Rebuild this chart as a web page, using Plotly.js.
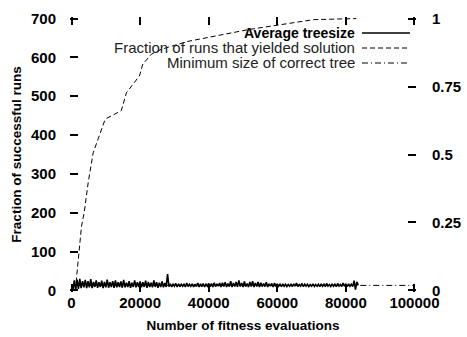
<!DOCTYPE html>
<html><head><meta charset="utf-8">
<script src="https://cdn.plot.ly/plotly-3.0.1.min.js"></script>
<style>html,body{margin:0;padding:0;background:#fff}#chart{width:467px;height:337px}</style>
</head><body><div id="chart"></div>
<script>
// Average treesize: sampled every 400 evaluations starting at 400
const treesizeStart = 400;
const treesizeStep = 400;
const avgTreesize = [
  2, 26, 1, 28, 4, 30, 6, 24, 8, 27,
  6, 24, 8, 29, 6, 22, 9, 26, 7, 21,
  9, 25, 6, 22, 8, 28, 7, 21, 9, 24,
  7, 26, 8, 21, 9, 23, 7, 27, 8, 20,
  9, 24, 7, 20, 9, 26, 8, 21, 9, 23,
  8, 21, 9, 25, 7, 22, 9, 20, 8, 26,
  9, 21, 7, 20, 9, 23, 8, 19, 9, 42,
  10, 17, 9, 16, 11, 18, 9, 17, 10, 16,
  11, 17, 9, 19, 10, 16, 11, 17, 9, 16,
  10, 19, 9, 17, 10, 18, 9, 16, 11, 18,
  10, 18, 9, 20, 10, 17, 11, 19, 9, 20,
  10, 21, 9, 18, 10, 24, 9, 19, 10, 22,
  9, 26, 10, 19, 9, 23, 10, 18, 9, 22,
  10, 24, 9, 19, 10, 22, 9, 20, 10, 18,
  10, 21, 9, 17, 11, 18, 9, 19, 10, 17,
  11, 16, 10, 17, 11, 16, 10, 15, 11, 17,
  10, 17, 11, 19, 10, 15, 11, 18, 10, 16,
  11, 16, 10, 15, 11, 17, 10, 15, 11, 16,
  10, 17, 11, 16, 10, 18, 11, 15, 10, 17,
  11, 16, 10, 18, 11, 15, 10, 19, 11, 16,
  10, 17, 11, 16, 10, 25, 2, 22, 13
];

// Fraction of runs that yielded solution (right axis, 0..1)
const fracEvals = [1100, 1700, 2400, 2900, 3700, 4850, 6300, 9700, 10200, 14500, 16000, 19800, 20800, 23300, 26200, 33900, 51400, 70600, 83000];
const fracSolved = [0, 0.08, 0.153, 0.236, 0.287, 0.396, 0.506, 0.626, 0.633, 0.661, 0.727, 0.789, 0.833, 0.869, 0.887, 0.916, 0.959, 0.996, 1.0];

// Minimum size of correct tree
const minEvals = [800, 100000];
const minSize = [13, 13];

const legendLabels = ["Average treesize", "Fraction of runs that yielded solution", "Minimum size of correct tree"];
const xTickVals = [0, 20000, 40000, 60000, 80000, 100000];
const yTickVals = [0, 100, 200, 300, 400, 500, 600, 700];
const y2TickVals = [0, 0.25, 0.5, 0.75, 1];
// ranges padded by ~1.5px so that the end ticks are drawn
const xRange = [-450, 100450];
const yRange = [-4, 704];
const y2Range = [-0.0057, 1.0057];

const FONT = "Liberation Sans, Arial, Helvetica, sans-serif";

const traces = [
  {type: "scatter", mode: "lines", x0: treesizeStart, dx: treesizeStep, y: avgTreesize,
   line: {color: "#000", width: 1.6}, showlegend: false, hoverinfo: "skip"},
  {type: "scatter", mode: "lines", x: minEvals, y: minSize, yaxis: "y3",
   line: {color: "#000", width: 1, dash: "6px,3px,1px,3px"}, showlegend: false, hoverinfo: "skip"},
  {type: "scatter", mode: "lines", x: fracEvals, y: fracSolved, yaxis: "y4",
   line: {color: "#000", width: 1, dash: "5px,3px"}, showlegend: false, hoverinfo: "skip"},
  // transparent copy so that the right-hand tick axis is built
  {type: "scatter", mode: "lines", x: fracEvals, y: fracSolved, yaxis: "y2", opacity: 0,
   line: {color: "#000", width: 1}, showlegend: false, hoverinfo: "skip"}
];

const L = 70, R = 51, T = 17, B = 45, W = 467, H = 337;
const pw = W - L - R, ph = H - T - B;
const px = v => (v - L) / pw;
const py = v => (H - B - v) / ph;

const legendRows = [33, 48, 63];
const legendDash = ["solid", "5px,3px", "6px,3px,1px,3px"];
const annotations = legendLabels.map((t, i) => ({
  xref: "paper", yref: "paper", x: px(357), y: py(legendRows[i]),
  xanchor: "right", yanchor: "middle", showarrow: false,
  text: i === 0 ? "<b>" + t + "</b>" : t,
  font: {family: FONT, size: i === 0 ? 14 : 15, color: i === 0 ? "#000" : "#222"}
}));
const shapes = legendLabels.map((t, i) => ({
  type: "line", xref: "paper", yref: "paper",
  x0: px(362), x1: px(410), y0: py(legendRows[i]), y1: py(legendRows[i]),
  line: {color: "#000", width: i === 0 ? 1.5 : 1, dash: legendDash[i]}
}));

const tickFont = {family: FONT, size: 15, color: "#000", weight: "bold"};
const titleFont = {family: FONT, size: 13.5, color: "#000", weight: "bold"};
// visible inward tick marks, no labels
const tickAxis = {
  showgrid: false, zeroline: false, showline: false,
  ticks: "inside", ticklen: 8, tickwidth: 2, tickcolor: "#000",
  tickfont: tickFont
};
// labels only, pushed outward by invisible outside ticks
const labelAxis = {
  showgrid: false, zeroline: false, showline: false,
  ticks: "outside", tickwidth: 1, tickcolor: "rgba(0,0,0,0)",
  tickfont: tickFont
};

const layout = {
  width: W, height: H,
  margin: {l: L, r: R, t: T, b: B, pad: 0},
  paper_bgcolor: "#fff", plot_bgcolor: "rgba(0,0,0,0)",
  showlegend: false,
  xaxis: Object.assign({}, tickAxis, {
    range: xRange, tickvals: xTickVals, tickformat: "d", mirror: "ticks",
    title: {text: "Number of fitness evaluations", standoff: 10, font: titleFont}
  }),
  yaxis: Object.assign({}, tickAxis, {
    range: yRange, tickvals: yTickVals, showticklabels: false
  }),
  yaxis3: Object.assign({}, labelAxis, {
    range: yRange, tickvals: yTickVals, overlaying: "y", side: "left", anchor: "x",
    ticklen: 10,
    title: {text: "Fraction of successful runs", standoff: 6, font: titleFont}
  }),
  yaxis2: Object.assign({}, tickAxis, {
    range: y2Range, tickvals: y2TickVals, overlaying: "y", side: "right", anchor: "x",
    showticklabels: false
  }),
  yaxis4: Object.assign({}, labelAxis, {
    range: y2Range, tickvals: y2TickVals, overlaying: "y", side: "right", anchor: "x",
    ticklen: 12
  }),
  annotations: annotations,
  shapes: shapes
};

Plotly.newPlot("chart", traces, layout, {staticPlot: true, displayModeBar: false});
</script>
</body></html>
